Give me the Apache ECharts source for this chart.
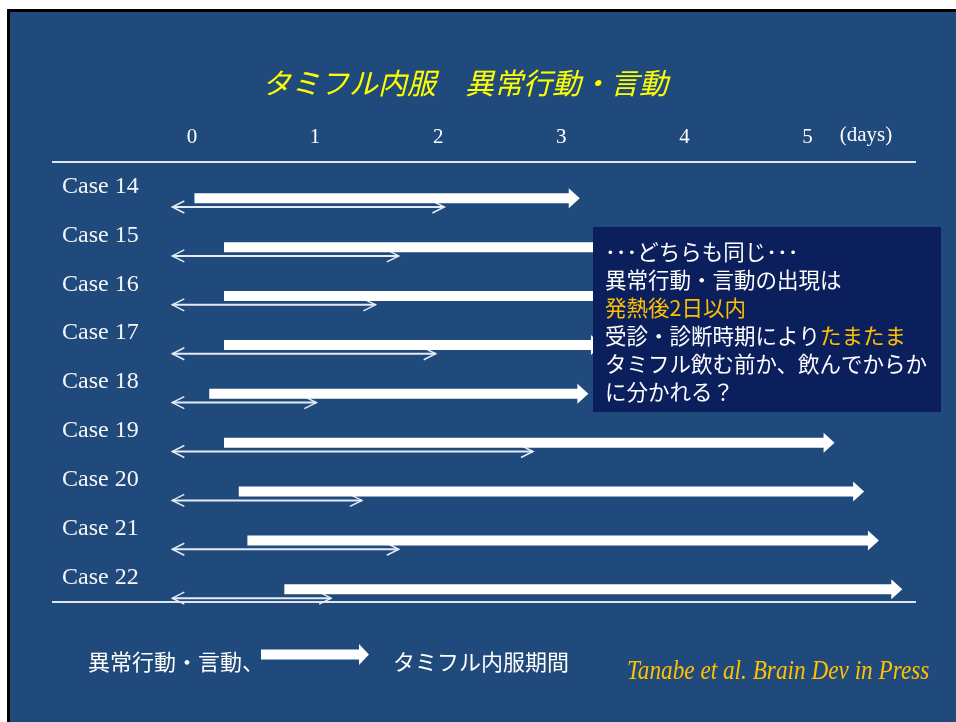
<!DOCTYPE html>
<html>
<head>
<meta charset="utf-8">
<script src="https://cdn.jsdelivr.net/npm/echarts@6/dist/echarts.min.js"></script>
<style>
  html, body { margin: 0; padding: 0; background: #ffffff; }
  #wrap { position: relative; width: 956px; height: 722px; background: #ffffff; overflow: hidden; }
  #frame { position: absolute; left: 7px; top: 9px; right: 0; bottom: 0; border-top: 3px solid #000; border-left: 3px solid #000; background: #214a7c; }
  #chart { position: absolute; left: 0; top: 0; width: 956px; height: 722px; }
</style>
</head>
<body>
<div id="wrap"><div id="frame"></div><div id="chart"></div></div>
<script>
// ---- data ----
const cases = ['Case 14', 'Case 15', 'Case 16', 'Case 17', 'Case 18', 'Case 19', 'Case 20', 'Case 21', 'Case 22'];
// Tamiflu administration period (days)
const tamifluStart = [0.02, 0.26, 0.26, 0.26, 0.14, 0.26, 0.38, 0.45, 0.75];
const tamifluEnd   = [3.15, 3.60, 3.60, 3.33, 3.22, 5.22, 5.46, 5.58, 5.77];
// abnormal behaviour / speech period (days)
const abnormalStart = [-0.16, -0.16, -0.16, -0.16, -0.16, -0.16, -0.16, -0.16, -0.16];
const abnormalEnd   = [2.05, 1.68, 1.49, 1.98, 1.01, 2.77, 1.38, 1.68, 1.13];
const dayTicks = [0, 1, 2, 3, 4, 5];

const serif = "'Liberation Serif', 'DejaVu Serif', serif";
const cjk = "'Noto Sans CJK JP', 'Noto Sans', sans-serif";

const tamifluData = cases.map((c, i) => [i, tamifluStart[i], tamifluEnd[i]]);
const abnormalData = cases.map((c, i) => [i, abnormalStart[i], abnormalEnd[i]]);

function renderThick(params, api) {
  const i = api.value(0);
  const s = api.coord([api.value(1), i]);
  const e = api.coord([api.value(2), i]);
  const y = s[1] + 11.8;
  const hl = 11, sh = 5, hh = 10;
  return {
    type: 'polygon',
    shape: { points: [[s[0], y - sh], [e[0] - hl, y - sh], [e[0] - hl, y - hh], [e[0], y], [e[0] - hl, y + hh], [e[0] - hl, y + sh], [s[0], y + sh]] },
    style: { fill: '#ffffff' }
  };
}

function renderThin(params, api) {
  const i = api.value(0);
  const s = api.coord([api.value(1), i]);
  const e = api.coord([api.value(2), i]);
  const y = s[1] + 20.6;
  const col = '#e4ebf5';
  return {
    type: 'group',
    children: [
      { type: 'line', shape: { x1: s[0], y1: y, x2: e[0], y2: y }, style: { stroke: col, lineWidth: 2 } },
      { type: 'polyline', shape: { points: [[s[0] + 12, y - 6], [s[0], y], [s[0] + 12, y + 6]] }, style: { stroke: col, lineWidth: 1.5, fill: null } },
      { type: 'polyline', shape: { points: [[e[0] - 12, y - 6], [e[0], y], [e[0] - 12, y + 6]] }, style: { stroke: col, lineWidth: 1.5, fill: null } }
    ]
  };
}

const chart = echarts.init(document.getElementById('chart'), null, { renderer: 'canvas' });
chart.setOption({
  backgroundColor: 'transparent',
  animation: false,
  grid: { left: 68.9, right: 25.4, top: 162, bottom: 120 },
  xAxis: {
    type: 'value', position: 'top', min: -1, max: 6, interval: 1,
    axisLine: { show: false }, axisTick: { show: false }, splitLine: { show: false },
    axisLabel: {
      color: '#ffffff', fontFamily: serif, fontSize: 21, margin: 14,
      formatter: v => dayTicks.indexOf(v) >= 0 ? String(v) : ''
    }
  },
  yAxis: {
    type: 'category', data: cases, inverse: true,
    axisLine: { show: false }, axisTick: { show: false }, splitLine: { show: false },
    axisLabel: { color: '#f4f6fa', fontFamily: serif, fontSize: 24, align: 'left', margin: 6.9, padding: [0, 0, 8, 0] }
  },
  legend: {
    left: 261, top: 644, padding: 0, itemWidth: 108, itemHeight: 21, selectedMode: false,
    data: [{ name: 'タミフル内服期間', icon: 'path://M0,5.5L98,5.5L98,0L108,10.5L98,21L98,15.5L0,15.5Z' }],
    formatter: name => '{t|' + name + '}',
    textStyle: { rich: { t: { color: '#ffffff', fontFamily: cjk, fontSize: 22, padding: [15, 0, 0, 19] } } }
  },
  series: [
    {
      name: '異常行動・言動', type: 'custom', renderItem: renderThin, data: abnormalData,
      encode: { x: [1, 2], y: 0 }, itemStyle: { color: '#e4ebf5' }, z: 3
    },
    {
      name: 'タミフル内服期間', type: 'custom', renderItem: renderThick, data: tamifluData,
      encode: { x: [1, 2], y: 0 }, itemStyle: { color: '#ffffff' }, z: 4
    }
  ],
  graphic: [
    { type: 'line', shape: { x1: 52, y1: 162, x2: 916, y2: 162 }, style: { stroke: '#dfe6f0', lineWidth: 2 }, z: 1 },
    { type: 'line', shape: { x1: 52, y1: 602, x2: 916, y2: 602 }, style: { stroke: '#dfe6f0', lineWidth: 2 }, z: 1 },
    { type: 'text', x: 262, y: 83, style: { text: 'タミフル内服　異常行動・言動', fill: '#ffff00', font: 'italic 29px ' + cjk, verticalAlign: 'middle' }, z: 1 },
    { type: 'text', x: 866, y: 135, style: { text: '(days)', fill: '#ffffff', font: '21px ' + serif, align: 'center', verticalAlign: 'middle' }, z: 1 },
    { type: 'rect', shape: { x: 593, y: 227, width: 348, height: 185 }, style: { fill: '#0b1f5c' }, z: 100 },
    {
      type: 'text', x: 605, y: 238, z: 101,
      style: {
        text: '{w|･･･どちらも同じ･･･}\n{w|異常行動・言動の出現は}\n{o|発熱後2日以内}\n{w|受診・診断時期により}{o|たまたま}\n{w|タミフル飲む前か、飲んでからか}\n{w|に分かれる？}',
        font: '21.5px ' + cjk, lineHeight: 28, verticalAlign: 'top',
        rich: {
          w: { fill: '#ffffff', font: '21.5px ' + cjk, lineHeight: 28 },
          o: { fill: '#ffc000', font: '21.5px ' + cjk, lineHeight: 28 }
        }
      }
    },
    { type: 'text', x: 88, y: 662, style: { text: '異常行動・言動、', fill: '#ffffff', font: '22px ' + cjk, verticalAlign: 'middle' }, z: 1 },
    { type: 'text', x: 627, y: 672, scaleX: 0.83, style: { text: 'Tanabe et al. Brain Dev in Press', fill: '#ffc000', font: 'italic 28px ' + serif, verticalAlign: 'middle' }, z: 1 }
  ]
});
</script>
</body>
</html>
